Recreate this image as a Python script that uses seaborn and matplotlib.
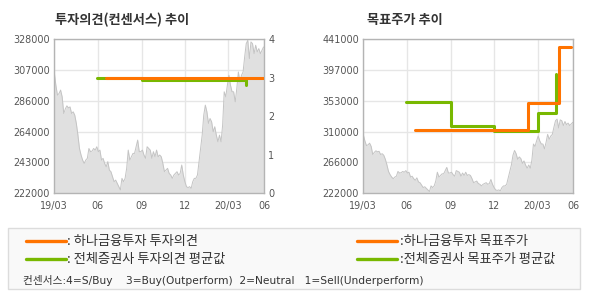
import numpy as np
import pandas as pd
import matplotlib
matplotlib.use("Agg")
import matplotlib.pyplot as plt
import seaborn as sns
from matplotlib.patches import Rectangle
from matplotlib.lines import Line2D

# ---------------- data ----------------
price = [305000, 296300, 289500, 290600, 293000, 288300, 276800, 280000, 282100, 280700,
         281400, 276800, 278000, 275700, 270000, 262000, 252700, 248200, 244700, 242400,
         244700, 245900, 252700, 250500, 250900, 252700, 251600, 253900, 250500, 251600,
         244700, 245900, 242400, 240100, 243600, 237800, 236700, 233200, 229800, 230900,
         228700, 226400, 224100, 232100, 229800, 232100, 239000, 251600, 244700, 247000,
         249300, 249300, 253900, 258500, 250500, 250500, 251600, 248200, 245900, 253900,
         252700, 251600, 245900, 250500, 247000, 251600,
         247000, 248200, 247000, 242400, 236700, 237800, 239000, 235500, 234400, 232100,
         234400, 235500, 236700, 234400, 235500, 241300, 234400, 229800, 226400, 225700,
         226400, 225200, 229800, 232100, 232100, 234400, 243600, 252700, 261900, 275700,
         282600, 278000, 270000, 273400, 271100, 264200, 267700, 261900, 257300, 261900,
         257300, 268800, 291800, 288300, 296300, 303200, 296300, 291800, 291800, 284900,
         294000, 305500, 298600, 303200, 305500, 315800, 325000, 327300, 314700, 326200,
         325000, 318100, 323900, 319300, 321600, 318100, 320400, 322700]
price_first_day = 0
price_last_day = 440

x_tick_days = [0, 91, 184, 274, 366, 441]
x_tick_labels = ["19/03", "06", "09", "12", "20/03", "06"]

opinion_hana_days = [108, 438]
opinion_hana = [3.0, 3.0]
opinion_avg_days = [90, 184, 403]
opinion_avg = [3.0, 2.93, 2.82]

tp_hana_days = [108, 345, 411, 437]
tp_hana = [312000, 350000, 430000, 430000]
tp_avg_days = [90, 184, 275, 366, 404]
tp_avg = [352000, 317000, 310500, 336000, 391000]

left_price_labels = ["222000", "243000", "264000", "286000", "307000", "328000"]
right_price_labels = ["222000", "266000", "310000", "353000", "397000", "441000"]
opinion_labels = ["0", "1", "2", "3", "4"]

titles = ["투자의견(컨센서스) 추이", "목표주가 추이"]
legend_left = [": 하나금융투자 투자의견", ": 전체증권사 투자의견 평균값"]
legend_right = [":하나금융투자 목표주가", ":전체증권사 목표주가 평균값"]
consensus_note = "컨센서스:4=S/Buy    3=Buy(Outperform)  2=Neutral   1=Sell(Underperform)"

# ---------------- style ----------------
sns.set_theme(style="white")
plt.rcParams['font.family'] = ['DejaVu Sans', 'Noto Sans CJK KR']

ORANGE = "#FF7300"
GREEN = "#78B800"
GRID = "#E6E6E6"
FRAME = "#B4B4B4"
TICKC = "#555555"
KFONT = ['Noto Sans CJK KR', 'DejaVu Sans']

price_days = np.linspace(price_first_day, price_last_day, len(price))
df_price = pd.DataFrame({"day": price_days, "price": price})

fig = plt.figure(figsize=(5.9, 3.0), dpi=100)
fig.patch.set_facecolor("white")

W, H = 590.0, 300.0
def ax_rect(x0, x1, y0, y1):
    return [x0 / W, 1 - y1 / H, (x1 - x0) / W, (y1 - y0) / H]

def style_axes(ax, ylo, yhi, labels):
    ax.set_xlim(0, 441)
    ax.set_ylim(ylo, yhi)
    ax.set_yticks(np.linspace(ylo, yhi, len(labels)))
    ax.set_yticklabels(labels)
    ax.set_xticks(x_tick_days)
    ax.set_xticklabels(x_tick_labels)
    ax.tick_params(axis="both", length=0, labelsize=6.9, colors=TICKC)
    ax.tick_params(axis="y", pad=3)
    ax.tick_params(axis="x", pad=5.5)
    ax.grid(True, color=GRID, linewidth=1.0)
    ax.set_axisbelow(True)
    for s in ax.spines.values():
        s.set_color(FRAME)
        s.set_linewidth(1.0)
    ax.set_xlabel("")
    ax.set_ylabel("")

def draw_price(ax, ylo):
    ax.fill_between(df_price["day"], df_price["price"], ylo, color="#E0E0E0", linewidth=0, zorder=1)
    sns.lineplot(data=df_price, x="day", y="price", ax=ax, color="#C4C4C4", linewidth=0.7, zorder=2)

# ---- left chart ----
axL = fig.add_axes(ax_rect(54.3, 264.0, 39.3, 193.0))
draw_price(axL, 222000)
style_axes(axL, 222000, 328000, left_price_labels)
axR = axL.twinx()
axR.set_ylim(0, 4)
axR.set_yticks(range(5))
axR.set_yticklabels(opinion_labels)
axR.tick_params(axis="y", length=0, labelsize=6.9, colors=TICKC, pad=3)
for s in axR.spines.values():
    s.set_visible(False)
sns.lineplot(x=opinion_avg_days, y=opinion_avg, ax=axR, color=GREEN, linewidth=2.2,
             drawstyle="steps-post", zorder=3)
sns.lineplot(x=opinion_hana_days, y=opinion_hana, ax=axR, color=ORANGE, linewidth=2.2,
             drawstyle="steps-post", zorder=4)
axR.set_xlim(0, 441)
axR.set_ylabel("")

# ---- right chart ----
ax2 = fig.add_axes(ax_rect(363.3, 573.3, 39.3, 193.0))
draw_price(ax2, 222000)
sns.lineplot(x=tp_avg_days, y=tp_avg, ax=ax2, color=GREEN, linewidth=2.2,
             drawstyle="steps-post", zorder=3)
sns.lineplot(x=tp_hana_days, y=tp_hana, ax=ax2, color=ORANGE, linewidth=2.2,
             drawstyle="steps-post", zorder=4)
style_axes(ax2, 222000, 441000, right_price_labels)

# ---- titles ----
fig.text(55 / W, 1 - 20 / H, titles[0], family=KFONT, fontsize=9.5, fontweight="bold",
         color="#333333", va="center", ha="left")
fig.text(367 / W, 1 - 20 / H, titles[1], family=KFONT, fontsize=9.5, fontweight="bold",
         color="#333333", va="center", ha="left")

# ---- legend box ----
fig.patches.append(Rectangle((8 / W, 1 - 289 / H), 572 / W, 61 / H, transform=fig.transFigure,
                             facecolor="#F9F9F9", edgecolor="#DCDCDC", linewidth=1.0))
for (x0, x1, tx, texts) in [(26, 66, 67, legend_left), (357, 397, 400, legend_right)]:
    for ypx, col, t in [(241, ORANGE, texts[0]), (259, GREEN, texts[1])]:
        fig.lines.append(Line2D([x0 / W, x1 / W], [1 - ypx / H, 1 - ypx / H],
                                transform=fig.transFigure, color=col, linewidth=2.4))
        fig.text(tx / W, 1 - ypx / H, t, family=KFONT, fontsize=9.5, color="#333333",
                 va="center", ha="left")
fig.text(23 / W, 1 - 281 / H, consensus_note, family=['DejaVu Sans', 'Noto Sans CJK KR'],
         fontsize=7.7, color="#333333", va="center", ha="left")

fig.savefig("out.png", dpi=100, facecolor="white")
